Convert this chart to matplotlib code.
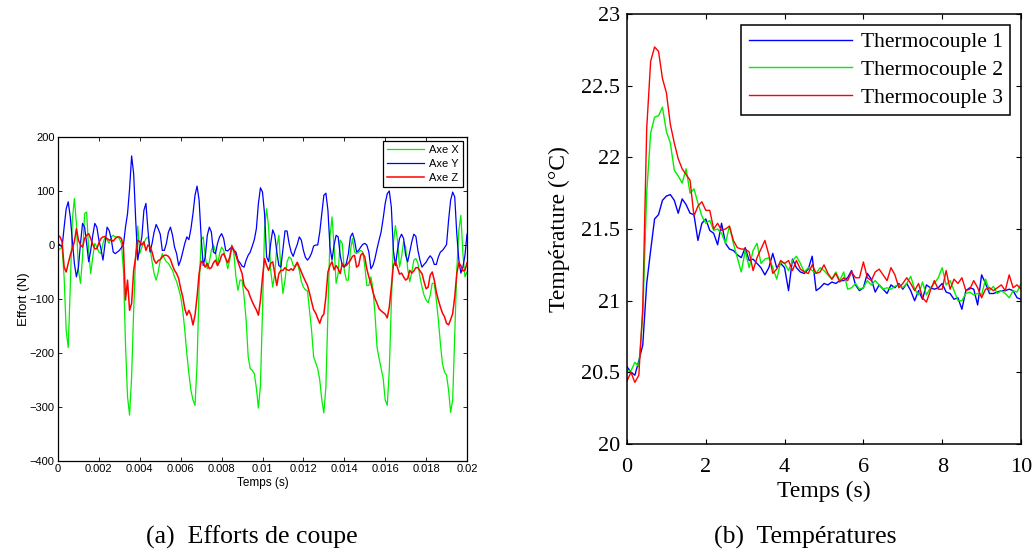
import numpy as np
import matplotlib
matplotlib.use("Agg")
import matplotlib.pyplot as plt

# ---- (a) efforts de coupe : 0 -> 0.02 s, pas 0.0001 s ----
temps_effort = np.linspace(0, 0.02, 201)

axe_x = [
    -10, -7, -4, -60, -158, -190, -78, 46, 86, 40, -47, -71, -22, 58, 61, -10, -53, -22, 3, -4,
    -13, -16, 3, 15, 9, 3, 15, 18, 15, 15, 12, 3, -47, -183, -281, -315, -244, -121, -16, 35,
    -16, -4, 3, 12, 15, -4, -31, -53, -65, -50, -28,
    -16, -25, -31, -34, -41, -47, -59, -68, -81, -96, -121, -158, -201, -238, -269, -287, -297, -220, -78, 9,
    15, -22, -44, -31, -10, 0, -13, -38, -16, -4, -10, -25, -44, -28, 0, -16, -59, -84, -65, -65,
    -96, -139, -207, -229, -232, -238, -265, -302, -260, -120,
    30, 67, 33, -47, -78, -53, -4, 18, -47, -90, -65, -31, -22, -25, -38, -41, -34, -47, -68, -78,
    -83, -85, -121, -158, -207, -218, -229, -250, -287, -311, -263, -127, 15, 52, -4, -71, -53, 9, 3, -47,
    -65, -65, -10, 12, -13, -16, -13, -10, -13, -38,
    -75, -75, -59, -81, -127, -189, -210, -229, -247, -287, -297, -232, -108, 3, 36, 9, -41, -22, 6, -4,
    -44, -68, -50, -28, -25, -34, -59, -78, -93, -102, -107, -93, -71, -71, -102, -139, -183, -220, -235, -241,
    -269, -310, -287, -170, -47, 27, 55, -16, -59, -50,
]

axe_y = [
    3, 0, -4, 33, 67, 80, 52, 9, -34, -59, -41, 3, 40, 33, 3, -31, -10, 18, 40, 33,
    9, -7, -28, 3, 33, 27, 12, -13, -16, -13, -10, -5, 0, 33, 58, 104, 165, 132, 46, -28,
    -4, 15, 64, 77, 27, -13, 3, 24, 38, 30, 20,
    -10, -10, 3, 24, 33, 18, -4, -16, -38, -28, -13, 3, 15, 10, 30, 58, 92, 109, 83, 15,
    -38, -22, 18, 33, 24, -13, -16, 3, 15, 21, 12, -10, -11, -7, -4, -10, -13, -28, -33, -39,
    -41, -28, -19, -13, -2, 10, 30, 77, 106, 98,
    58, -22, -31, 3, 28, 18, -13, -38, -41, -7, 26, 26, 3, -13, -21, -9, 1, 15, 9, -10,
    -23, -28, -23, -15, -2, 0, 0, 24, 58, 92, 96, 64, -4, -28, 0, 18, 15, -19, -38, -41,
    -34, -16, 15, 22, 9, -13, -10, -4, 1, 3,
    0, -13, -44, -38, -25, -7, 9, 24, 49, 77, 95, 100, 70, -10, -38, -10, 12, 20, 12, -19,
    -31, -13, 6, 20, 16, -10, -28, -41, -36, -32, -25, -20, -25, -36, -36, -22, -13, -10, -5, 1,
    46, 83, 98, 89, 21, -28, -52, -41, -19, 20,
]

axe_z = [
    18, 15, 6, -41, -50, -34, -19, -7, 6, 30, 9, 0, -4, 12, 18, 21, 12, 1, -7, -7,
    4, 12, 15, 16, 12, 9, 10, 7, 12, 15, 15, 12, -4, -102, -65, -121, -108, -47, -22, 9,
    6, 0, 6, -10, 0, -4, -13, -28, -34, -29, -27,
    -22, -19, -19, -21, -27, -38, -47, -53, -62, -81, -96, -118, -130, -121, -130, -148, -130, -96, -53, -30,
    -33, -41, -34, -44, -42, -33, -28, -38, -31, -19, -16, -25, -33, -22, -2, -9, -19, -31, -42, -53,
    -75, -81, -85, -96, -105, -113, -120, -130, -102, -60,
    -25, -38, -47, -34, -31, -53, -75, -53, -47, -47, -42, -46, -47, -44, -47, -39, -32, -41, -50, -59,
    -67, -75, -89, -105, -120, -126, -136, -145, -133, -128, -96, -50, -38, -31, -46, -38, -44, -53, -34, -39,
    -38, -33, -28, -21, -19, -41, -38, -19, -15, -22,
    -44, -59, -71, -87, -99, -108, -118, -122, -125, -128, -135, -115, -78, -38, -30, -42, -54, -52, -59, -65,
    -62, -47, -52, -48, -42, -42, -48, -53, -68, -81, -78, -56, -50, -65, -87, -102, -115, -126, -133, -145,
    -148, -138, -127, -96, -53, -33, -38, -48, -47, -33,
]

x_ticks_a = [0, 0.002, 0.004, 0.006, 0.008, 0.01, 0.012, 0.014, 0.016, 0.018, 0.02]
x_labels_a = ["0", "0.002", "0.004", "0.006", "0.008", "0.01", "0.012", "0.014", "0.016", "0.018", "0.02"]
y_ticks_a = [-400, -300, -200, -100, 0, 100, 200]

# ---- (b) temperatures : 0 -> 10 s, pas 0.1 s ----
temps_thermo = np.linspace(0, 10, 101)

thermo_1 = [
    20.54, 20.50, 20.48, 20.58, 20.69, 21.12, 21.35, 21.57, 21.60, 21.70,
    21.73, 21.74, 21.70, 21.61, 21.71, 21.67, 21.61, 21.60, 21.42, 21.54,
    21.57, 21.49, 21.47, 21.39, 21.54, 21.40, 21.36, 21.35, 21.32, 21.30,
    21.37, 21.28, 21.29, 21.26, 21.23, 21.18, 21.23, 21.33, 21.23, 21.26,
    21.23, 21.07, 21.29, 21.23, 21.20, 21.19, 21.22, 21.31, 21.07, 21.09,
    21.12, 21.11, 21.13, 21.12, 21.14, 21.14, 21.16, 21.21, 21.11, 21.07,
    21.09, 21.19, 21.15, 21.06, 21.11, 21.08, 21.05, 21.11, 21.09, 21.12,
    21.08, 21.12, 21.07, 21.00, 21.07, 21.01, 21.11, 21.09, 21.08, 21.09,
    21.12, 21.06, 21.05, 21.01, 21.02, 20.94, 21.07, 21.09, 21.08, 20.97,
    21.18, 21.12, 21.05, 21.05, 21.06, 21.07, 21.07, 21.08, 21.07, 21.02, 21.01,
]

thermo_2 = [
    20.51, 20.51, 20.57, 20.54, 20.90, 21.75, 22.17, 22.28, 22.29, 22.35,
    22.18, 22.10, 21.91, 21.87, 21.82, 21.92, 21.75, 21.78, 21.68, 21.59,
    21.54, 21.56, 21.49, 21.50, 21.47, 21.40, 21.52, 21.40, 21.30, 21.20,
    21.35, 21.23, 21.35, 21.40, 21.26, 21.29, 21.30, 21.23, 21.15, 21.27,
    21.26, 21.21, 21.28, 21.31, 21.26, 21.20, 21.23, 21.21, 21.19, 21.23,
    21.21, 21.18, 21.15, 21.20, 21.14, 21.20, 21.08, 21.09, 21.12, 21.08,
    21.09, 21.14, 21.11, 21.14, 21.11, 21.08, 21.09, 21.08, 21.10, 21.11,
    21.09, 21.12, 21.17, 21.08, 21.04, 21.13, 21.04, 21.09, 21.12, 21.16,
    21.23, 21.11, 21.14, 21.07, 21.00, 21.00, 21.05, 21.06, 21.04, 21.05,
    21.04, 21.15, 21.07, 21.10, 21.05, 21.07, 21.05, 21.02, 21.07, 21.06, 21.12,
]

thermo_3 = [
    20.44, 20.50, 20.43, 20.48, 20.95, 22.20, 22.67, 22.77, 22.74, 22.55,
    22.45, 22.23, 22.10, 21.99, 21.92, 21.88, 21.84, 21.59, 21.66, 21.69,
    21.63, 21.63, 21.50, 21.54, 21.49, 21.50, 21.52, 21.42, 21.37, 21.36,
    21.36, 21.34, 21.21, 21.30, 21.36, 21.42, 21.32, 21.19, 21.22, 21.28,
    21.26, 21.28, 21.21, 21.28, 21.22, 21.20, 21.19, 21.25, 21.19, 21.20,
    21.25, 21.19, 21.15, 21.19, 21.13, 21.16, 21.14, 21.20, 21.16, 21.16,
    21.27, 21.16, 21.14, 21.20, 21.22, 21.18, 21.14, 21.23, 21.18, 21.09,
    21.12, 21.16, 21.12, 21.07, 21.12, 21.02, 20.99, 21.07, 21.14, 21.08,
    21.08, 21.21, 21.08, 21.15, 21.12, 21.16, 21.07, 21.08, 21.14, 21.09,
    21.02, 21.08, 21.09, 21.07, 21.09, 21.11, 21.07, 21.18, 21.09, 21.11, 21.08,
]

y_ticks_b = [20, 20.5, 21, 21.5, 22, 22.5, 23]
y_labels_b = ["20", "20.5", "21", "21.5", "22", "22.5", "23"]

W, H = 1035, 552
fig = plt.figure(figsize=(W / 100, H / 100), dpi=100)


def px_axes(left, top, right, bottom):
    # position de l'axe en pixels de l'image
    return fig.add_axes([left / W, 1 - bottom / H, (right - left) / W, (bottom - top) / H])


# ---------- (a) ----------
sans = "Liberation Sans"
ax1 = px_axes(58, 137, 467, 461)
ax1.plot(temps_effort, axe_x, color="#00ee00", lw=0.9, label="Axe X")
ax1.plot(temps_effort, axe_y, color="#0000ff", lw=0.9, label="Axe Y")
ax1.plot(temps_effort, axe_z, color="#ff0000", lw=1.1, label="Axe Z")
ax1.set_xlim(0, 0.02)
ax1.set_ylim(-400, 200)
ax1.set_xticks(x_ticks_a)
ax1.set_xticklabels(x_labels_a, fontfamily=sans, fontsize=8)
ax1.set_yticks(y_ticks_a)
for lab in ax1.get_yticklabels():
    lab.set_fontfamily(sans)
    lab.set_fontsize(8)
ax1.tick_params(direction="in", length=3, width=0.6, top=True, right=True, pad=2.5)
for s in ax1.spines.values():
    s.set_linewidth(0.9)
ax1.set_xlabel("Temps (s)", fontfamily=sans, fontsize=8.5, labelpad=2)
ax1.set_ylabel("Effort (N)", fontfamily=sans, fontsize=9.5, labelpad=0)
leg1 = ax1.legend(loc="upper right", prop={"family": sans, "size": 8}, fancybox=False,
                  edgecolor="black", framealpha=1, handlelength=3.4, borderpad=0.35,
                  labelspacing=0.35, handletextpad=0.4, borderaxespad=0.4)
leg1.get_frame().set_linewidth(0.9)

# ---------- (b) ----------
serif = "Liberation Serif"
ax2 = px_axes(627, 14, 1021, 444)
ax2.plot(temps_thermo, thermo_1, color="#0000ff", lw=1.0, label="Thermocouple 1")
ax2.plot(temps_thermo, thermo_2, color="#00ee00", lw=1.0, label="Thermocouple 2")
ax2.plot(temps_thermo, thermo_3, color="#ff0000", lw=1.0, label="Thermocouple 3")
ax2.set_xlim(0, 10)
ax2.set_ylim(20, 23)
ax2.set_xticks([0, 2, 4, 6, 8, 10])
ax2.set_xticklabels(["0", "2", "4", "6", "8", "10"], fontfamily=serif, fontsize=16)
ax2.set_yticks(y_ticks_b)
ax2.set_yticklabels(y_labels_b, fontfamily=serif, fontsize=16)
ax2.tick_params(direction="in", length=3.5, width=0.8, top=True, right=True)
ax2.tick_params(axis="x", pad=10)
ax2.tick_params(axis="y", pad=5)
for s in ax2.spines.values():
    s.set_linewidth(1.1)
ax2.set_xlabel("Temps (s)", fontfamily=serif, fontsize=17, labelpad=3)
ax2.set_ylabel("Température (°C)", fontfamily=serif, fontsize=17, labelpad=8)
leg2 = ax2.legend(loc="upper right", prop={"family": serif, "size": 15.5}, fancybox=False,
                  edgecolor="black", framealpha=1, handlelength=4.8, borderpad=0.35,
                  labelspacing=0.35, handletextpad=0.4, borderaxespad=0.5)
leg2.get_frame().set_linewidth(1.1)

# ---------- legendes des sous-figures ----------
fig.text(252 / W, 1 - 537 / H, "(a)  Efforts de coupe", ha="center", va="center",
         fontfamily=serif, fontsize=18.5)
fig.text(805 / W, 1 - 537 / H, "(b)  Températures", ha="center", va="center",
         fontfamily=serif, fontsize=18.5)

fig.savefig("out.png", dpi=100)
